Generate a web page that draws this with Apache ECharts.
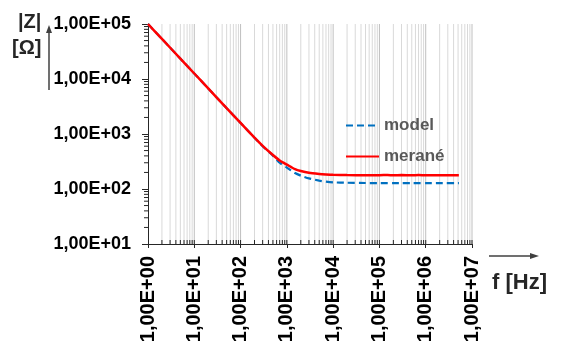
<!DOCTYPE html>
<html>
<head>
<meta charset="utf-8">
<script src="https://cdn.jsdelivr.net/npm/echarts@6/dist/echarts.min.js"></script>
<style>
html,body{margin:0;padding:0;background:#fff;}
#chart{width:561px;height:349px;}
</style>
</head>
<body>
<div id="chart"></div>
<script>
// ---- data ----
var frequencies = [1, 2, 5, 10, 20, 50, 100, 200, 300, 500, 700, 1000, 1500, 2000, 3000, 5000, 7000, 10000, 20000, 50000, 100000, 150000, 200000, 300000, 500000, 700000, 1000000, 2000000, 5200000];
var modelValues = [100000, 53600, 23500, 12600, 6750, 2950, 1590, 855, 600, 405, 300, 245, 195, 175, 156, 142, 136, 132, 130, 128.5, 128, 128, 128, 128, 128, 128, 128, 128, 128];
var measuredValues = [100000, 53600, 23500, 12600, 6750, 2950, 1590, 860, 610, 415, 330, 278, 230, 212, 197, 188, 184, 181, 179, 178, 178, 180, 177, 179, 178, 179, 178, 178, 178];
var seriesNames = ['model', 'merané'];
var xTickLabels = ['1,00E+00', '1,00E+01', '1,00E+02', '1,00E+03', '1,00E+04', '1,00E+05', '1,00E+06', '1,00E+07'];
var yTickLabels = ['1,00E+01', '1,00E+02', '1,00E+03', '1,00E+04', '1,00E+05'];
var X_MIN = 1, X_MAX = 1e7, Y_MIN = 10, Y_MAX = 1e5;

// minor/major grid positions (axis structure, not data)
var xGridMajor = [], xGridMinor = [], yMinor = [];
for (var k = 0; k <= 7; k++) {
  xGridMajor.push([Math.pow(10, k), Y_MIN]);
  if (k < 7) for (var m = 2; m <= 9; m++) xGridMinor.push([m * Math.pow(10, k), Y_MIN]);
}
for (var k2 = 1; k2 < 5; k2++) for (var m2 = 2; m2 <= 9; m2++) yMinor.push([X_MIN, m2 * Math.pow(10, k2)]);

function pairs(xs, ys) { return xs.map(function (x, i) { return [x, ys[i]]; }); }

var FONT = 'Arial, "Liberation Sans", sans-serif';

function gridRender(color) {
  return function (params, api) {
    var x = api.value(0);
    var p1 = api.coord([x, Y_MAX]);
    var p2 = api.coord([x, Y_MIN]);
    return {
      type: 'group',
      children: [
        { type: 'line', shape: { x1: p1[0], y1: p1[1], x2: p2[0], y2: p2[1] }, style: { stroke: color, lineWidth: 1 } },
        { type: 'line', shape: { x1: p2[0], y1: p2[1], x2: p2[0], y2: p2[1] - 4 }, style: { stroke: '#262626', lineWidth: 1 } }
      ]
    };
  };
}

var chart = echarts.init(document.getElementById('chart'), null, { renderer: 'canvas' });
chart.setOption({
  animation: false,
  backgroundColor: '#fff',
  grid: { left: 148, right: 89, top: 24, bottom: 105, containLabel: false, outerBoundsMode: 'none' },
  legend: {
    data: seriesNames,
    orient: 'vertical',
    left: 345, top: 117,
    itemWidth: 33, itemHeight: 14, itemGap: 14,
    padding: 0,
    itemStyle: { opacity: 0 },
    textStyle: { fontSize: 17, fontWeight: 'bold', color: '#595959', fontFamily: FONT }
  },
  xAxis: {
    type: 'log', logBase: 10, min: X_MIN, max: X_MAX, splitNumber: 7,
    axisLine: { show: true, lineStyle: { color: '#262626', width: 1 } },
    axisTick: { show: true, length: 4, lineStyle: { color: '#262626' } },
    splitLine: { show: false },
    axisLabel: {
      rotate: 90, margin: 12, fontSize: 20, fontWeight: 'bold', color: '#000', fontFamily: FONT,
      formatter: function (v) { return xTickLabels[Math.round(Math.log10(v))]; }
    }
  },
  yAxis: {
    type: 'log', logBase: 10, min: Y_MIN, max: Y_MAX, splitNumber: 4,
    axisLine: { show: true, lineStyle: { color: '#262626', width: 1 } },
    axisTick: { show: true, length: 6, lineStyle: { color: '#262626' } },
    splitLine: { show: false },
    axisLabel: {
      margin: 17, fontSize: 18, fontWeight: 'bold', color: '#000', fontFamily: FONT,
      formatter: function (v) { return yTickLabels[Math.round(Math.log10(v)) - 1]; }
    }
  },
  series: [
    { type: 'custom', name: 'gridMinor', data: xGridMinor, renderItem: gridRender('#d9d9d9'), z: 1, clip: false, silent: true },
    { type: 'custom', name: 'gridMajor', data: xGridMajor.slice(1), renderItem: gridRender('#bfbfbf'), z: 1, clip: false, silent: true },
    {
      type: 'custom', name: 'yMinorTicks', data: yMinor, z: 1, clip: false, silent: true,
      renderItem: function (params, api) {
        var p = api.coord([X_MIN, api.value(1)]);
        return { type: 'line', shape: { x1: p[0] - 4, y1: p[1], x2: p[0], y2: p[1] }, style: { stroke: '#262626', lineWidth: 1 } };
      }
    },
    {
      type: 'line', name: seriesNames[0], data: pairs(frequencies, modelValues),
      symbol: 'none', smooth: 0.2, z: 3,
      lineStyle: { color: '#0070c0', width: 2.2, type: [7, 4] },
      itemStyle: { color: '#0070c0' }
    },
    {
      type: 'line', name: seriesNames[1], data: pairs(frequencies, measuredValues),
      symbol: 'none', smooth: 0.2, z: 4,
      lineStyle: { color: '#ff0000', width: 2.5 },
      itemStyle: { color: '#ff0000' }
    }
  ],
  graphic: [
    { type: 'text', left: 18, top: 12, style: { text: '|Z|', font: 'bold 20px ' + FONT, fill: '#262626' } },
    { type: 'text', left: 12, top: 38, style: { text: '[Ω]', font: 'bold 20px ' + FONT, fill: '#262626' } },
    { type: 'line', shape: { x1: 49, y1: 90, x2: 49, y2: 32 }, style: { stroke: '#404040', lineWidth: 1.5 } },
    { type: 'polygon', shape: { points: [[49, 25], [46, 33], [52, 33]] }, style: { fill: '#404040' } },
    { type: 'line', shape: { x1: 489, y1: 256, x2: 531, y2: 256 }, style: { stroke: '#404040', lineWidth: 1.5 } },
    { type: 'polygon', shape: { points: [[539, 256], [530, 253], [530, 259]] }, style: { fill: '#404040' } },
    { type: 'text', left: 492, top: 272, style: { text: 'f [Hz]', font: 'bold 22px ' + FONT, fill: '#262626' } }
  ]
});
</script>
</body>
</html>
